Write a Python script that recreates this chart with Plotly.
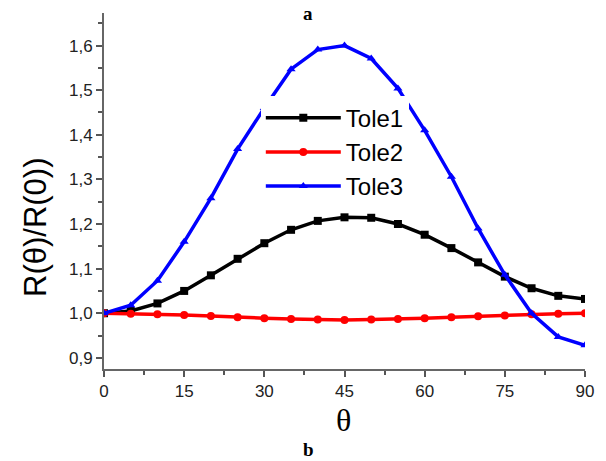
import plotly.graph_objects as go

theta = [0, 5, 10, 15, 20, 25, 30, 35, 40, 45, 50, 55, 60, 65, 70, 75, 80, 85, 90]
tole1 = [1.0, 1.005, 1.022, 1.05, 1.085, 1.122, 1.157, 1.187, 1.207, 1.215, 1.214, 1.2,
         1.176, 1.146, 1.114, 1.082, 1.056, 1.039, 1.032]
tole2 = [1.0, 0.999, 0.998, 0.996, 0.994, 0.991, 0.989, 0.987, 0.986, 0.985, 0.986, 0.987,
         0.989, 0.991, 0.993, 0.995, 0.998, 0.999, 1.0]
tole3 = [1.0, 1.018, 1.073, 1.16, 1.258, 1.368, 1.46, 1.547, 1.591, 1.6, 1.571, 1.504,
         1.41, 1.306, 1.19, 1.086, 1.0, 0.947, 0.928]

x_ticks = [0, 15, 30, 45, 60, 75, 90]
y_ticks = [0.9, 1.0, 1.1, 1.2, 1.3, 1.4, 1.5, 1.6]
y_tick_labels = ["0,9", "1,0", "1,1", "1,2", "1,3", "1,4", "1,5", "1,6"]

series = [
    ("Tole1", tole1, "#000000", "square"),
    ("Tole2", tole2, "#ff0000", "circle"),
    ("Tole3", tole3, "#0000ff", "triangle-up"),
]

fig = go.Figure()
for name, vals, color, sym in series:
    fig.add_trace(go.Scatter(
        x=theta, y=vals, name=name, mode="lines+markers",
        line=dict(color=color, width=3.5),
        marker=dict(symbol=sym, size=8, color=color),
    ))

axis_common = dict(
    showline=True, linecolor="#666666", linewidth=2,
    ticks="outside", ticklen=6, tickwidth=1.5, tickcolor="#555555",
    showgrid=False, zeroline=False, mirror=False,
    tickfont=dict(family="Arial, Liberation Sans", size=17, color="#222222"),
)

fig.update_layout(
    width=606, height=461,
    margin=dict(l=104, r=18, t=13, b=92),
    paper_bgcolor="white", plot_bgcolor="white",
    xaxis=dict(range=[0, 90], tickvals=x_ticks,
               minor=dict(ticks="outside", ticklen=4, tickcolor="#555555", dtick=7.5),
               **axis_common),
    yaxis=dict(range=[0.875, 1.673], tickvals=y_ticks, ticktext=y_tick_labels,
               minor=dict(ticks="outside", ticklen=4, tickcolor="#555555", dtick=0.05, tick0=0.85),
               **axis_common),
    legend=dict(x=0.326, y=0.768, xanchor="left", yanchor="top",
                bgcolor="white", borderwidth=0, itemwidth=75,
                font=dict(family="Arial, Liberation Sans", size=24, color="#000000"),
                tracegroupgap=0),
    showlegend=True,
    annotations=[
        dict(text="R(\u03b8)/R(0))", xref="paper", yref="paper", x=-0.1426, y=0.40,
             textangle=-90, showarrow=False, xanchor="center", yanchor="middle",
             font=dict(family="Arial, Liberation Sans", size=31, color="#000000")),
        dict(text="\u03b8", xref="paper", yref="paper", x=0.498, y=-0.143,
             showarrow=False, xanchor="center", yanchor="middle",
             font=dict(family="Times New Roman, Liberation Serif", size=32, color="#000000")),
        dict(text="<b>b</b>", xref="paper", yref="paper", x=0.4256, y=-0.226,
             showarrow=False, xanchor="center", yanchor="middle",
             font=dict(family="Times New Roman, Liberation Serif", size=19, color="#000000")),
        dict(text="<b>a</b>", xref="paper", yref="paper", x=0.4236, y=1.0337,
             showarrow=False, xanchor="center", yanchor="top",
             font=dict(family="Times New Roman, Liberation Serif", size=19, color="#000000")),
    ],
)

fig.write_html("out.html")
